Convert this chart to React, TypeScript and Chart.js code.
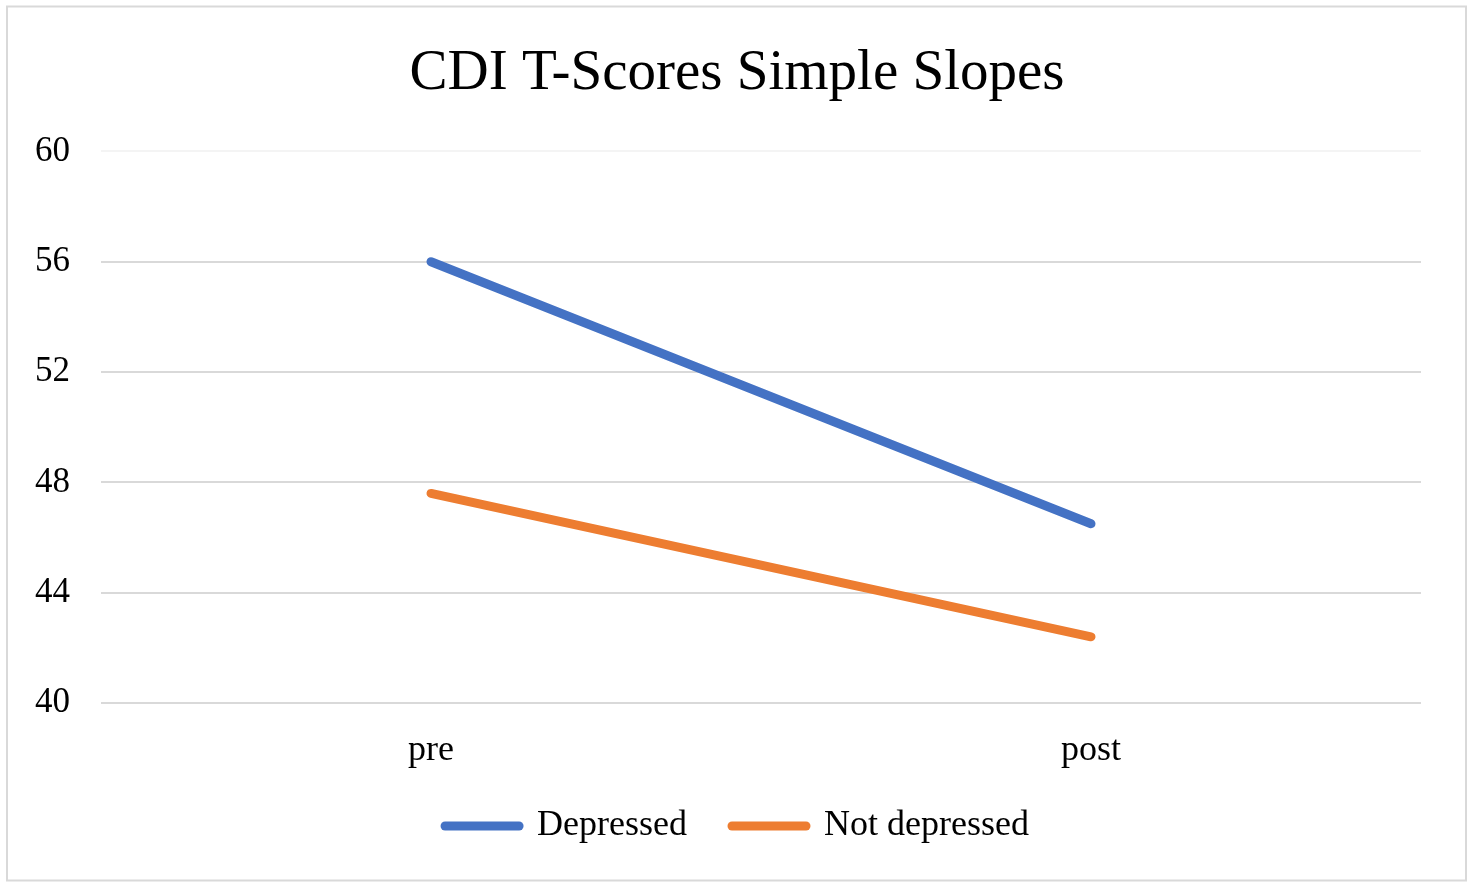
import React, { useEffect, useRef } from "react";
import { Chart, registerables } from "chart.js";

Chart.register(...registerables);

const categories = ["pre", "post"];
const depressed = [56.0, 46.5];
const notDepressed = [47.6, 42.4];
const yTicks = [40, 44, 48, 52, 56, 60];

const FONT = "'Liberation Serif', 'Times New Roman', serif";

const framePlugin = {
  id: "frame",
  beforeDraw(chart: any) {
    const ctx = chart.ctx;
    ctx.save();
    ctx.fillStyle = "#ffffff";
    ctx.fillRect(0, 0, chart.width, chart.height);
    ctx.strokeStyle = "#d9d9d9";
    ctx.lineWidth = 2;
    ctx.strokeRect(7, 6.5, 1459, 874);
    ctx.restore();
  },
};

export default function App() {
  const ref = useRef<HTMLCanvasElement | null>(null);
  useEffect(() => {
    if (!ref.current) return;
    const baseGen = (Chart as any).defaults.plugins.legend.labels.generateLabels;
    const chart = new Chart(ref.current, {
      type: "line",
      data: {
        labels: categories,
        datasets: [
          {
            label: "Depressed",
            data: depressed,
            borderColor: "#4472C4",
            backgroundColor: "#4472C4",
            borderWidth: 9,
            borderCapStyle: "round",
            pointRadius: 0,
            pointHoverRadius: 0,
            tension: 0,
          },
          {
            label: "Not depressed",
            data: notDepressed,
            borderColor: "#ED7D31",
            backgroundColor: "#ED7D31",
            borderWidth: 9,
            borderCapStyle: "round",
            pointRadius: 0,
            pointHoverRadius: 0,
            tension: 0,
          },
        ],
      },
      options: {
        responsive: false,
        animation: false,
        layout: { padding: { top: 0, left: 53, right: 53, bottom: 34 } },
        plugins: {
          title: {
            display: true,
            text: "CDI T-Scores Simple Slopes",
            color: "#000000",
            font: { family: FONT, size: 57, weight: "normal", lineHeight: 1.2 },
            padding: { top: 40, bottom: 43 },
          },
          legend: {
            display: true,
            position: "bottom",
            labels: {
              usePointStyle: true,
              pointStyle: "line",
              pointStyleWidth: 74,
              color: "#000000",
              padding: 45,
              font: { family: FONT, size: 36 },
              generateLabels(c: any) {
                return baseGen(c).map((it: any) => ({ ...it, lineCap: "round", lineWidth: 9 }));
              },
            },
          },
          tooltip: { enabled: false },
        },
        scales: {
          x: {
            offset: true,
            grid: { display: false, drawTicks: false },
            border: { display: false },
            ticks: {
              color: "#000000",
              mirror: true,
              padding: -69,
              font: { family: FONT, size: 36 },
            },
            afterFit(scale: any) {
              scale.height = 60;
            },
          },
          y: {
            min: 40,
            max: 60,
            afterBuildTicks(scale: any) {
              scale.ticks = yTicks.map((v) => ({ value: v }));
            },
            afterFit(scale: any) {
              scale.width = 48;
            },
            grid: {
              drawTicks: false,
              lineWidth: 2,
              color: (c: any) => (c.tick && c.tick.value === 60 ? "#f4f4f4" : "#d9d9d9"),
            },
            border: { display: false },
            ticks: {
              color: "#000000",
              mirror: true,
              crossAlign: "near",
              padding: -66,
              font: { family: FONT, size: 35 },
            },
          },
        },
      },
      plugins: [framePlugin],
    });
    return () => chart.destroy();
  }, []);
  return (
    <div style={{ position: "fixed", left: 0, top: 0, width: 1474, height: 888 }}>
      <canvas ref={ref} width={1474} height={888} style={{ display: "block" }} />
    </div>
  );
}
